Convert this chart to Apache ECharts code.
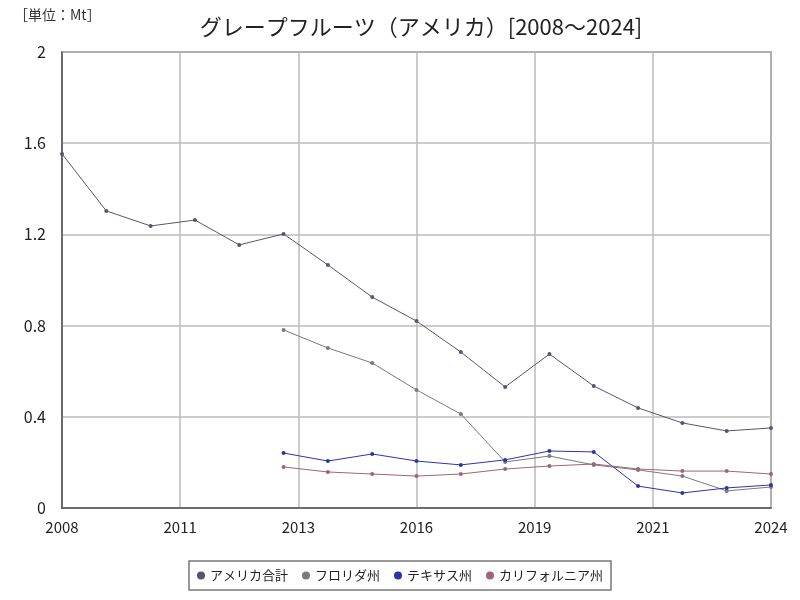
<!DOCTYPE html>
<html><head><meta charset="utf-8">
<script src="https://cdn.jsdelivr.net/npm/echarts@6/dist/echarts.min.js"></script>
<style>html,body{margin:0;padding:0;background:#fff}#c{width:800px;height:600px}</style>
</head><body><div id="c"></div>
<script>
const years = [2008,2009,2010,2011,2012,2013,2014,2015,2016,2017,2018,2019,2020,2021,2022,2023,2024];
const usTotal = [1.553,1.303,1.237,1.263,1.154,1.202,1.066,0.925,0.820,0.684,0.531,0.675,0.535,0.439,0.373,0.338,0.351];
const florida = [null,null,null,null,null,0.781,0.702,0.636,0.518,0.412,0.202,0.228,0.189,0.167,0.140,0.075,0.092];
const texas = [null,null,null,null,null,0.241,0.206,0.237,0.206,0.189,0.211,0.250,0.246,0.096,0.066,0.088,0.101];
const california = [null,null,null,null,null,0.180,0.158,0.149,0.140,0.149,0.171,0.184,0.193,0.171,0.162,0.162,0.149];
const seriesNames = ['アメリカ合計','フロリダ州','テキサス州','カリフォルニア州'];
const colors = ['#55556e','#7a7a7a','#2b35a8','#a06472'];
const seriesData = [usTotal, florida, texas, california];

const font = '"Noto Sans CJK JP", "Noto Sans", sans-serif';
const chart = echarts.init(document.getElementById('c'));
chart.setOption({
  animation:false,
  title:{text:'グレープフルーツ（アメリカ）[2008～2024]', left:416, textAlign:'center', top:11,
    textStyle:{fontFamily:font, fontSize:22, fontWeight:'normal', color:'#222'}},
  graphic:[{type:'text', left:14, top:8, style:{text:'［単位：Mt］', font:'14px '+font, fill:'#333'}}],
  legend:{bottom:10, left:'center', itemWidth:8, itemHeight:8, itemGap:14, icon:'circle',
    padding:[8,8], borderColor:'#777', borderWidth:1.5,
    textStyle:{fontFamily:font, fontSize:13, color:'#222'}, data:seriesNames},
  grid:{left:62, right:29, top:52, bottom:92, show:true, borderColor:'#666', borderWidth:1.5},
  xAxis:{type:'value', min:2008, max:2024, interval:16/6,
    axisLine:{show:true, lineStyle:{color:'#555', width:1.5}}, axisTick:{show:false},
    splitLine:{show:true, lineStyle:{color:'#bbb', width:1.5}},
    axisLabel:{formatter:v=>String(Math.round(v)), fontFamily:font, fontSize:15, color:'#222', margin:12}},
  yAxis:{type:'value', min:0, max:2, interval:0.4,
    axisLine:{show:true, lineStyle:{color:'#555', width:1.5}}, axisTick:{show:false},
    splitLine:{show:true, lineStyle:{color:'#bbb', width:1.5}},
    axisLabel:{formatter:v=>v===0?'0':(Number.isInteger(v)?String(v):v.toFixed(1)), fontFamily:font, fontSize:16, color:'#222', margin:16}},
  series: seriesNames.map((n,i)=>({
    name:n, type:'line', color:colors[i], symbol:'circle', symbolSize:4, showSymbol:true,
    lineStyle:{width:1, color:colors[i]}, itemStyle:{color:colors[i]},
    data: years.map((y,j)=>seriesData[i][j]==null?null:[y, seriesData[i][j]]).filter(d=>d)
  }))
});
</script></body></html>
